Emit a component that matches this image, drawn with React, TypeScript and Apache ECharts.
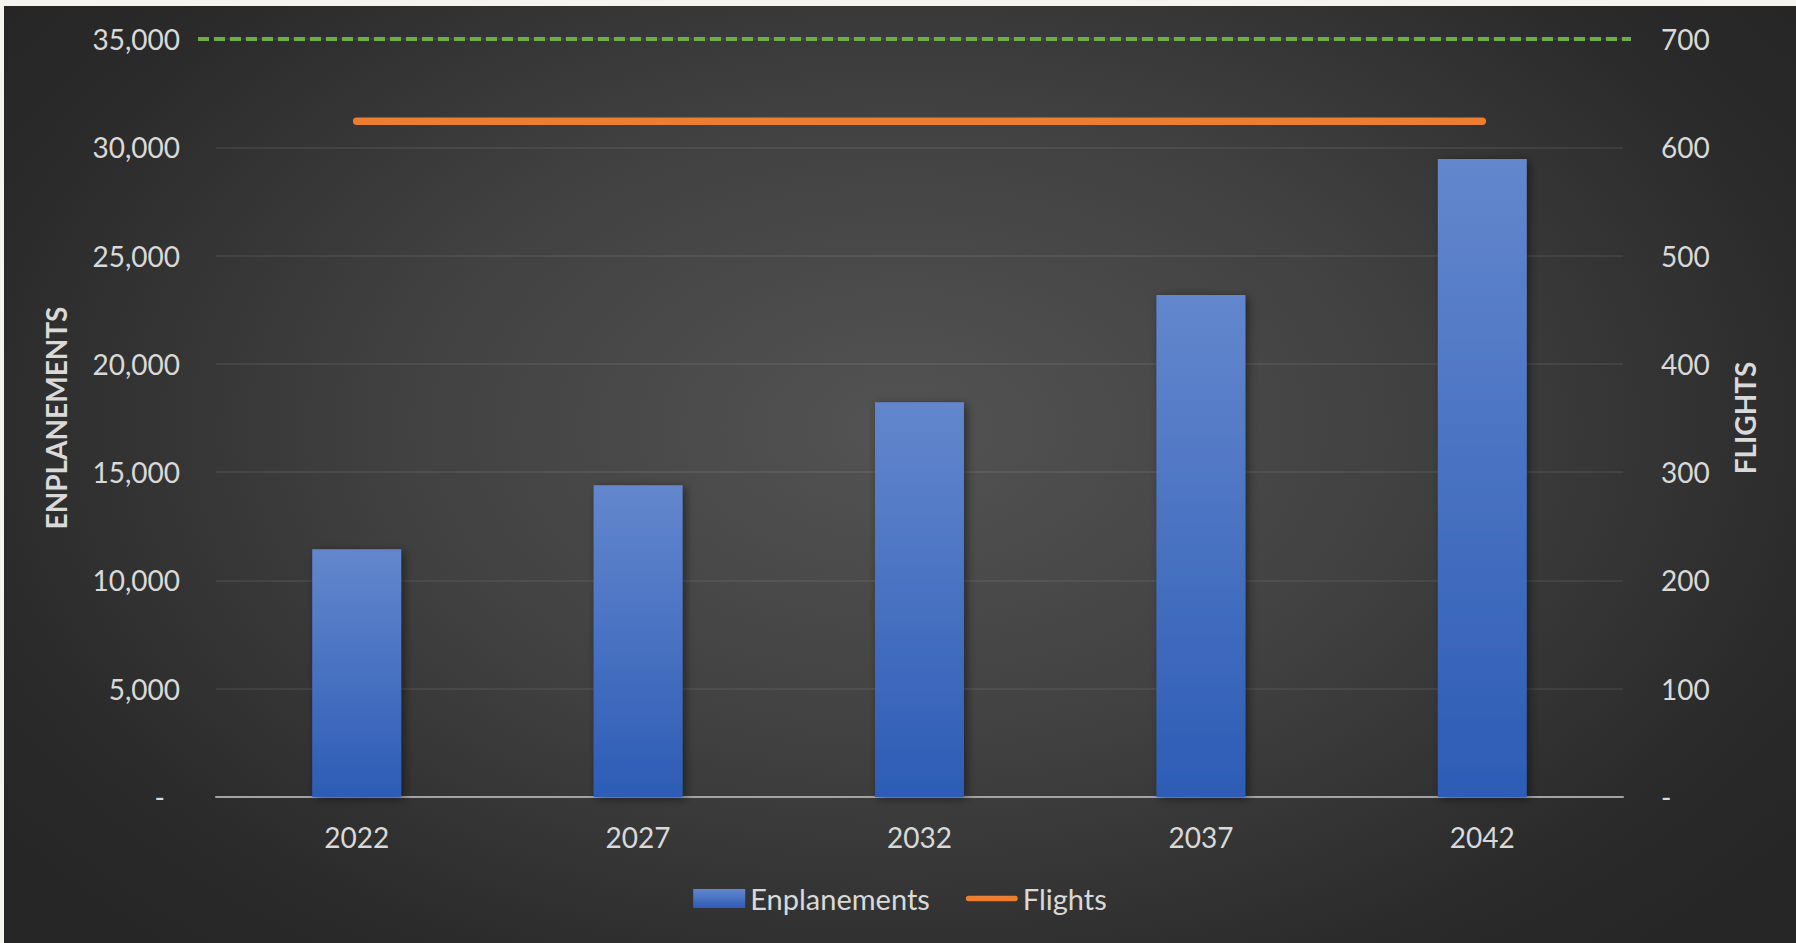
import React, { useEffect, useRef } from "react";
import * as echarts from "echarts";

// Forecast years and their values
const years = ["2022", "2027", "2032", "2037", "2042"];
const enplanements = [11440, 14400, 18230, 23180, 29460];
const flights = [624, 624, 624, 624, 624];
const flightCeiling = 700;

const leftTicks = { min: 0, max: 35000, interval: 5000 };
const rightTicks = { min: 0, max: 700, interval: 100 };

const TEXT = "#d9d9d9";
const FONT = "Lato, 'Open Sans', sans-serif";
const ORANGE = "#ed7d31";

// Rounded bar used as the legend key for the flights line
const lineKey = "path://M3,0 L55,0 A3,3 0 0 1 55,6 L3,6 A3,3 0 0 1 3,0 Z";

export default function App() {
  const ref = useRef<HTMLDivElement>(null);

  useEffect(() => {
    if (!ref.current) return;
    const chart = echarts.init(ref.current, null, { renderer: "svg" });

    const fmtLeft = (v: number) =>
      v === 0 ? "{d|-}" : v.toLocaleString("en-US");
    const fmtRight = (v: number) => (v === 0 ? "-" : String(v));

    chart.setOption({
      animation: false,
      backgroundColor: "transparent",
      textStyle: { fontFamily: FONT },
      grid: { left: 212, right: 173, top: 33, bottom: 146, containLabel: false },
      legend: {
        left: "center",
        top: 873,
        itemWidth: 52,
        itemHeight: 19,
        itemGap: 36,
        symbolKeepAspect: true,
        textStyle: { color: TEXT, fontSize: 29, fontFamily: FONT },
        data: [
          { name: "Enplanements", icon: "rect" },
          { name: "Flights", icon: lineKey, itemStyle: { color: ORANGE } },
        ],
      },
      xAxis: {
        type: "category",
        data: years,
        axisTick: { show: false },
        axisLine: { lineStyle: { color: "#a3a3a3", width: 2 } },
        axisLabel: { color: TEXT, fontSize: 28, margin: 26, fontFamily: FONT },
      },
      yAxis: [
        {
          type: "value",
          ...leftTicks,
          name: "ENPLANEMENTS",
          nameLocation: "middle",
          nameRotate: 90,
          nameGap: 146,
          nameTextStyle: { color: TEXT, fontSize: 28, fontWeight: "bold", fontFamily: FONT },
          axisLine: { show: false },
          axisTick: { show: false },
          axisLabel: {
            color: TEXT,
            fontSize: 28,
            margin: 36,
            fontFamily: FONT,
            formatter: fmtLeft,
            rich: { d: { color: TEXT, fontSize: 28, fontFamily: FONT, padding: [0, 15, 0, 0] } },
          },
          splitLine: { lineStyle: { color: "rgba(255,255,255,0.09)", width: 1.5 } },
        },
        {
          type: "value",
          ...rightTicks,
          position: "right",
          name: "FLIGHTS",
          nameLocation: "middle",
          nameRotate: 90,
          nameGap: 108,
          nameTextStyle: { color: TEXT, fontSize: 28, fontWeight: "bold", fontFamily: FONT },
          axisLine: { show: false },
          axisTick: { show: false },
          axisLabel: { color: TEXT, fontSize: 28, margin: 38, fontFamily: FONT, formatter: fmtRight },
          splitLine: { show: false },
        },
      ],
      series: [
        {
          name: "Enplanements",
          type: "bar",
          data: enplanements,
          barWidth: "31.6%",
          itemStyle: {
            color: new echarts.graphic.LinearGradient(0, 0, 0, 1, [
              { offset: 0, color: "#6387cd" },
              { offset: 1, color: "#2d5cb6" },
            ]),
            shadowBlur: 10,
            shadowColor: "rgba(0,0,0,0.45)",
            shadowOffsetX: 3,
            shadowOffsetY: 2,
          },
        },
        {
          name: "Flights",
          type: "line",
          yAxisIndex: 1,
          data: flights,
          symbol: "none",
          z: 5,
          lineStyle: { color: ORANGE, width: 7.5, cap: "round" },
          itemStyle: { color: ORANGE },
          markLine: {
            silent: true,
            symbol: ["none", "none"],
            label: { show: false },
            lineStyle: { color: "#70ad47", width: 3.8, type: [11, 5] },
            data: [[{ x: 194, yAxis: flightCeiling }, { x: 1627, yAxis: flightCeiling }]],
          },
        },
      ],
    });

    return () => chart.dispose();
  }, []);

  return (
    <div
      style={{
        position: "fixed",
        left: 0,
        top: 0,
        width: 1796,
        height: 943,
        background: "#f6f4ef",
        overflow: "hidden",
      }}
    >
      <div
        ref={ref}
        style={{
          position: "absolute",
          left: 4,
          top: 6,
          width: 1792,
          height: 937,
          background:
            "radial-gradient(ellipse 62% 75% at 50% 45%, #535353 0%, #414141 45%, #2a2a2a 85%, #262626 100%)",
        }}
      />
    </div>
  );
}
